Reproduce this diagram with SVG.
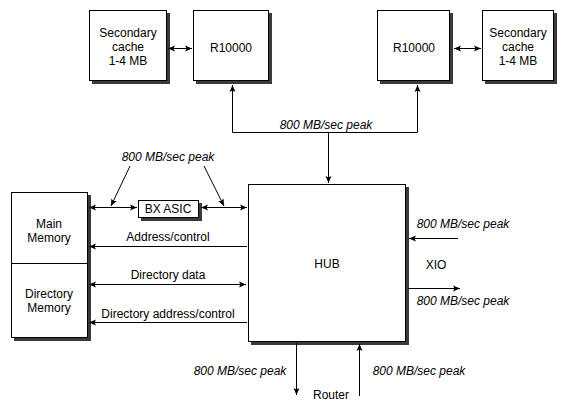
<svg xmlns="http://www.w3.org/2000/svg" width="570" height="409" viewBox="0 0 570 409">
<style>
.box{fill:#fff;stroke:#000;stroke-width:1}
.sh{fill:#3a3a3a}
.t{font-family:"Liberation Sans",Arial,sans-serif;font-size:12px;fill:#000;text-anchor:middle}
.i{font-family:"Liberation Sans",Arial,sans-serif;font-size:12px;font-style:italic;fill:#000;text-anchor:middle}
.ln{stroke:#000;stroke-width:1;fill:none}
</style>
<defs>
<marker id="ah" markerWidth="8" markerHeight="8" refX="7" refY="4" orient="auto-start-reverse" markerUnits="userSpaceOnUse">
<path d="M0,1 L7,4 L0,7 L1.5,4 Z" fill="#000"/>
</marker>
</defs>
<rect width="570" height="409" fill="#fff"/>

<g id="cacheL">
<rect class="sh" x="92" y="13" width="78" height="71"/>
<rect class="box" x="89.5" y="10.5" width="77" height="70"/>
<text class="t" x="128" y="37">Secondary</text>
<text class="t" x="128" y="51">cache</text>
<text class="t" x="128" y="65">1-4 MB</text>
</g>
<g id="r10000L">
<rect class="sh" x="196" y="13" width="76" height="71"/>
<rect class="box" x="193.5" y="10.5" width="75" height="70"/>
<text class="t" x="231" y="52">R10000</text>
</g>
<g id="r10000R">
<rect class="sh" x="380" y="13" width="73" height="71"/>
<rect class="box" x="377.5" y="10.5" width="72" height="70"/>
<text class="t" x="414" y="52">R10000</text>
</g>
<g id="cacheR">
<rect class="sh" x="485" y="13" width="72" height="71"/>
<rect class="box" x="482.5" y="10.5" width="71" height="70"/>
<text class="t" x="518" y="37">Secondary</text>
<text class="t" x="518" y="51">cache</text>
<text class="t" x="518" y="65">1-4 MB</text>
</g>
<g id="memory">
<rect class="sh" x="14" y="195" width="77" height="146"/>
<rect class="box" x="11.5" y="192.5" width="76" height="145"/>
<line class="ln" x1="11.5" y1="263.5" x2="87.5" y2="263.5"/>
<text class="t" x="49" y="228">Main</text>
<text class="t" x="49" y="242">Memory</text>
<text class="t" x="49" y="298">Directory</text>
<text class="t" x="49" y="312">Memory</text>
</g>
<g id="bxasic">
<rect class="sh" x="141" y="203" width="61" height="18"/>
<rect class="box" x="138.5" y="200.5" width="60" height="17"/>
<text class="t" x="168" y="213">BX ASIC</text>
</g>
<g id="hub">
<rect class="sh" x="251" y="187" width="158" height="158"/>
<rect class="box" x="248.5" y="184.5" width="157" height="157"/>
<text class="t" x="327" y="268">HUB</text>
</g>

<g id="connectors">
<line class="ln" x1="168" y1="48.5" x2="192" y2="48.5" marker-start="url(#ah)" marker-end="url(#ah)"/>
<line class="ln" x1="454" y1="48.5" x2="481" y2="48.5" marker-start="url(#ah)" marker-end="url(#ah)"/>
<polyline class="ln" points="232.5,132.5 232.5,85" marker-end="url(#ah)"/>
<polyline class="ln" points="232.5,132.5 417.5,132.5 417.5,85" marker-end="url(#ah)"/>
<line class="ln" x1="328.5" y1="132.5" x2="328.5" y2="183" marker-end="url(#ah)"/>
<line class="ln" x1="89" y1="207.5" x2="137" y2="207.5" marker-start="url(#ah)" marker-end="url(#ah)"/>
<line class="ln" x1="201" y1="207.5" x2="247" y2="207.5" marker-start="url(#ah)" marker-end="url(#ah)"/>
<line class="ln" x1="130" y1="166" x2="111" y2="206" marker-end="url(#ah)"/>
<line class="ln" x1="204" y1="166" x2="224" y2="206" marker-end="url(#ah)"/>
<line class="ln" x1="247" y1="246.5" x2="89" y2="246.5" marker-end="url(#ah)"/>
<line class="ln" x1="89" y1="284.5" x2="246" y2="284.5" marker-start="url(#ah)" marker-end="url(#ah)"/>
<line class="ln" x1="247" y1="322.5" x2="89" y2="322.5" marker-end="url(#ah)"/>
<line class="ln" x1="458" y1="238.5" x2="409" y2="238.5" marker-end="url(#ah)"/>
<line class="ln" x1="408" y1="288.5" x2="460" y2="288.5" marker-end="url(#ah)"/>
<line class="ln" x1="296.5" y1="343" x2="296.5" y2="395" marker-end="url(#ah)"/>
<line class="ln" x1="359.5" y1="396" x2="359.5" y2="344" marker-end="url(#ah)"/>
</g>

<g id="labels">
<text class="i" x="326" y="129">800 MB/sec peak</text>
<text class="i" x="168" y="161">800 MB/sec peak</text>
<text class="t" x="168" y="241">Address/control</text>
<text class="t" x="168" y="279">Directory data</text>
<text class="t" x="168" y="318">Directory address/control</text>
<text class="i" x="463" y="228">800 MB/sec peak</text>
<text class="t" x="436" y="269">XIO</text>
<text class="i" x="463" y="305">800 MB/sec peak</text>
<text class="i" x="240" y="375">800 MB/sec peak</text>
<text class="i" x="419" y="375">800 MB/sec peak</text>
<text class="t" x="331" y="399">Router</text>
</g>
</svg>
